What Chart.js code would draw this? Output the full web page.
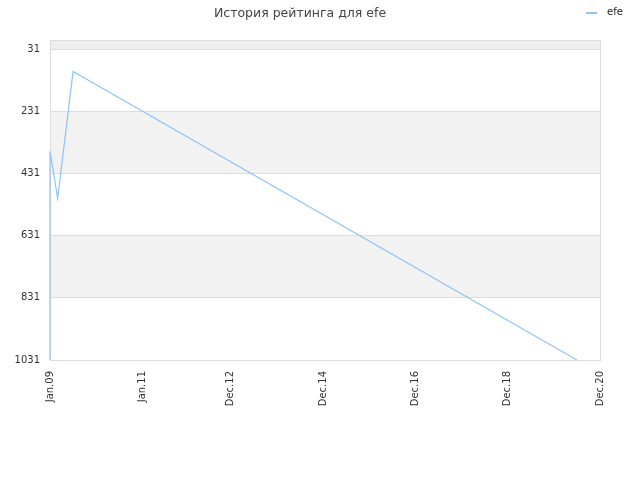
<!DOCTYPE html>
<html>
<head>
<meta charset="utf-8">
<script src="https://cdn.jsdelivr.net/npm/chart.js@4"></script>
<style>
  body { margin: 0; background: #fff; }
  #wrap { width: 640px; height: 480px; }
</style>
</head>
<body>
<div id="wrap"><canvas id="rating-chart"></canvas></div>
<script>
// months since Jan 2009
const playerName = 'efe';
const monthIdx = [0, 0, 2, 6, 137];
const rating = [1031, 359, 510, 102, 1031];
const xTickPos = [0, 24, 47, 71, 95, 119, 143];
const xTickLabels = ['Jan.09', 'Jan.11', 'Dec.12', 'Dec.14', 'Dec.16', 'Dec.18', 'Dec.20'];
const yTicks = [31, 231, 431, 631, 831, 1031];

const points = monthIdx.map((m, i) => ({ x: m, y: rating[i] }));

const bands = {
    id: 'bands',
    beforeDraw(chart) {
        const { ctx, chartArea: a, scales: { y } } = chart;
        ctx.save();
        ctx.fillStyle = '#eeeeee';
        ctx.fillRect(a.left, a.top, a.width, y.getPixelForValue(31) - a.top);
        ctx.fillStyle = '#f2f2f2';
        [[231, 431], [631, 831]].forEach(([v1, v2]) => {
            const p1 = y.getPixelForValue(v1), p2 = y.getPixelForValue(v2);
            ctx.fillRect(a.left, p1, a.width, p2 - p1);
        });
        ctx.restore();
    },
    beforeDatasetsDraw(chart) {
        const { ctx, chartArea: a } = chart;
        ctx.save();
        ctx.strokeStyle = '#dddddd';
        ctx.lineWidth = 1;
        ctx.strokeRect(a.left + 0.5, a.top + 0.5, a.width, a.height);
        ctx.restore();
    },
    afterDraw(chart) {
        const { ctx } = chart;
        ctx.save();
        ctx.strokeStyle = '#8ec3f5';
        ctx.lineWidth = 2;
        ctx.beginPath();
        ctx.moveTo(586, 13);
        ctx.lineTo(597, 13);
        ctx.stroke();
        ctx.fillStyle = '#222';
        ctx.font = '10px "DejaVu Sans"';
        ctx.textBaseline = 'middle';
        ctx.fillText(playerName, 607, 12);
        ctx.restore();
    }
};

const ctx = document.getElementById('rating-chart').getContext('2d');
new Chart(ctx, {
    type: 'line',
    data: {
        datasets: [{
            label: playerName,
            data: points,
            borderColor: '#8ec3f5',
            borderWidth: 1.2,
            pointRadius: 0,
            tension: 0,
            fill: false,
            clip: 2
        }]
    },
    options: {
        responsive: true,
        maintainAspectRatio: false,
        animation: false,
        layout: { padding: { left: 0, right: 40, top: 0, bottom: 0 } },
        plugins: {
            legend: { display: false },
            tooltip: { enabled: false },
            title: {
                display: true,
                text: 'История рейтинга для ' + playerName,
                color: '#444',
                font: { family: 'DejaVu Sans', size: 12.5, weight: 'normal' },
                padding: { top: 6, bottom: 19 }
            }
        },
        scales: {
            x: {
                type: 'linear',
                min: 0,
                max: 143,
                afterBuildTicks: s => { s.ticks = xTickPos.map(v => ({ value: v })); },
                afterFit: s => { s.height = 120; },
                grid: { display: false },
                border: { display: false },
                ticks: {
                    autoSkip: false,
                    maxRotation: 90,
                    minRotation: 90,
                    color: '#333',
                    font: { family: 'DejaVu Sans', size: 10 },
                    callback: (v, i) => xTickLabels[i]
                }
            },
            y: {
                reverse: true,
                min: 1,
                max: 1031,
                afterBuildTicks: s => { s.ticks = yTicks.map(v => ({ value: v })); },
                afterFit: s => { s.width = 50; },
                grid: { color: '#dddddd', drawTicks: false },
                border: { display: false },
                ticks: {
                    color: '#333',
                    padding: 10,
                    font: { family: 'DejaVu Sans', size: 10 },
                    callback: v => String(v)
                }
            }
        }
    },
    plugins: [bands]
});
</script>
</body>
</html>
